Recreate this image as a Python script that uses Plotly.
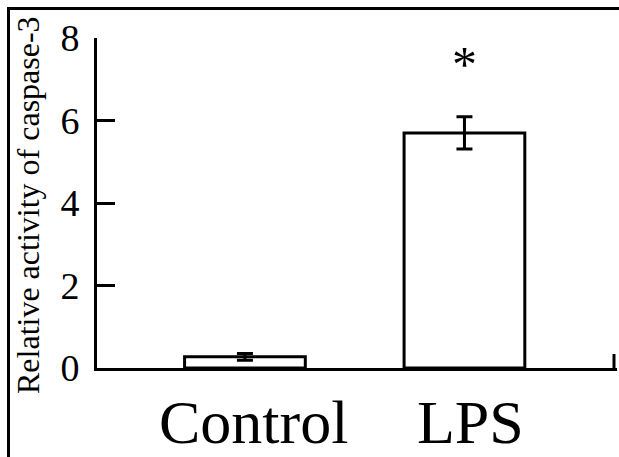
import plotly.graph_objects as go

categories = ["Control", "LPS"]
values = [0.27, 5.70]
errors = [0.08, 0.39]
y_ticks = [0, 2, 4, 6, 8]
y_title = "Relative activity of caspase-3"
sig_label = "*"
sig_y = 7.38

W, H = 619, 457
ML, MR, MT, MB = 97, 2, 38, 89
PW, PH = W - ML - MR, H - MT - MB

def px_x(p):
    return (p - ML) / PW

def px_y(p):
    return (H - MB - p) / PH

font = "Liberation Serif"
label_shift = [9, 6]

fig = go.Figure()
fig.add_trace(go.Bar(
    x=categories, y=values, width=0.55,
    marker=dict(color="white", line=dict(color="black", width=3)),
    error_y=dict(type="data", array=errors, visible=True, color="black", thickness=3, width=8),
    showlegend=False,
))

for cat, sh in zip(categories, label_shift):
    fig.add_annotation(x=cat, yref="paper", y=px_y(386), text=cat, showarrow=False,
                       xanchor="center", yanchor="top", xshift=sh,
                       font=dict(family=font, size=62, color="black"))

fig.add_annotation(x="LPS", y=sig_y, text=sig_label, showarrow=False,
                   font=dict(family=font, size=50, color="black"), yanchor="middle")

fig.add_annotation(xref="paper", yref="paper", x=px_x(28), y=px_y(205), text=y_title,
                   textangle=-90, showarrow=False, xanchor="center", yanchor="middle",
                   font=dict(family=font, size=32, color="black"))

shapes = [
    dict(type="line", xref="paper", yref="paper", x0=px_x(7), x1=px_x(619), y0=px_y(8.5), y1=px_y(8.5),
         line=dict(color="black", width=3)),
    dict(type="line", xref="paper", yref="paper", x0=px_x(8.5), x1=px_x(8.5), y0=px_y(7), y1=px_y(457),
         line=dict(color="black", width=3)),
    dict(type="line", xref="paper", yref="paper", x0=px_x(614), x1=px_x(614), y0=0, y1=px_y(354),
         line=dict(color="black", width=3)),
]

fig.update_layout(
    width=W, height=H,
    margin=dict(l=ML, r=MR, t=MT, b=MB),
    paper_bgcolor="white", plot_bgcolor="white",
    shapes=shapes,
    xaxis=dict(range=[-0.674, 1.695], showline=True, linecolor="black", linewidth=3,
               ticks="", showgrid=False, zeroline=False, showticklabels=False),
    yaxis=dict(range=[0, 8], tickvals=y_ticks, showline=True, linecolor="black", linewidth=3,
               ticks="inside", ticklen=18, tickwidth=3, tickcolor="black",
               showgrid=False, zeroline=False, ticklabelstandoff=7,
               tickfont=dict(family=font, size=38, color="black")),
)

fig.write_html("out.html")
